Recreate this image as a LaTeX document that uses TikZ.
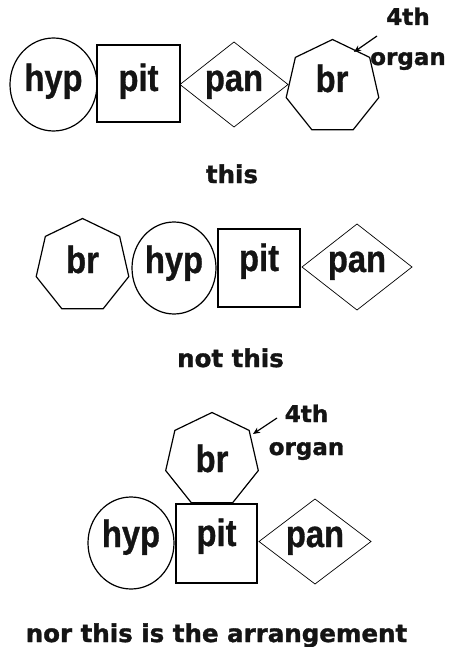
\documentclass[tikz,border=0pt]{standalone}
\usepackage{fontspec}
\usetikzlibrary{shapes.geometric,arrows.meta}
\newfontfamily\labfont{Liberation Sans}[FakeStretch=0.86, BoldFeatures={FakeBold=0.8}]
\newfontfamily\capfont{DejaVu Sans}[BoldFeatures={FakeBold=1.3}]
\tikzset{
  organ/.style={draw=black, line width=1.2pt, inner sep=0pt, outer sep=0pt},
  circ/.style={organ, ellipse},
  sq/.style={organ, rectangle},
  dia/.style={organ, diamond, line width=0.7pt},
  hept/.style={organ, regular polygon, regular polygon sides=7, minimum size=95pt},
  lab/.style={anchor=base, inner sep=0pt, text=black!92, font=\labfont\bfseries\fontsize{38}{40}\selectfont},
  captext/.style={anchor=base, inner sep=0pt, text=black!92, font=\capfont\bfseries\fontsize{24.5}{28}\selectfont},
  note/.style={anchor=base, inner sep=0pt, text=black!92, font=\capfont\bfseries\fontsize{23}{26}\selectfont},
  pointer/.style={line width=1.2pt, -{Stealth[length=7pt,width=6pt]}}
}
\begin{document}
\begin{tikzpicture}[x=1pt,y=-1pt]
\useasboundingbox[fill=white] (0,0) rectangle (456,647);
% ---------- row 1 ----------
\node[circ, minimum width=87pt, minimum height=93pt] (hyp1) at (53.5,84.5) {};
\node[sq, minimum width=83pt, minimum height=77pt] (pit1) at (138.5,83.5) {};
\node[dia, minimum width=108pt, minimum height=85pt] (pan1) at (234,84.5) {};
\node[hept] (br1) at (332.5,87) {};
\node[lab] (thyp1) at (53.5,91) {hyp};
\node[lab] (tpit1) at (138.5,91) {pit};
\node[lab] (tpan1) at (234,91) {pan};
\node[lab] (tbr1) at (332,92) {br};
\node[note] (four1) at (408,25) {4th};
\node[note] (org1) at (408,65) {organ};
\coordinate (a1s) at (377,36);
\coordinate (a1e) at (354,52);
\draw[pointer] (a1s) -- (a1e);
\node[captext] (c1) at (232,183) {this};
% ---------- row 2 ----------
\node[hept] (br2) at (82.5,266) {};
\node[circ, minimum width=84pt, minimum height=92pt] (hyp2) at (174,268) {};
\node[sq, minimum width=82pt, minimum height=78pt] (pit2) at (259,268) {};
\node[dia, minimum width=110pt, minimum height=86pt] (pan2) at (357,267) {};
\node[lab] (tbr2) at (82.5,273) {br};
\node[lab] (thyp2) at (174,273) {hyp};
\node[lab] (tpit2) at (259,271) {pit};
\node[lab] (tpan2) at (357,272) {pan};
\node[captext] (c2) at (230.5,367) {not this};
% ---------- row 3 ----------
\node[hept] (br3) at (212,460) {};
\node[circ, minimum width=86pt, minimum height=92pt] (hyp3) at (131,543) {};
\node[sq, minimum width=81pt, minimum height=79pt] (pit3) at (216.5,543.5) {};
\node[dia, minimum width=112pt, minimum height=85pt] (pan3) at (315,541.5) {};
\node[lab] (tbr3) at (212,472) {br};
\node[lab] (thyp3) at (131,547) {hyp};
\node[lab] (tpit3) at (216.5,546) {pit};
\node[lab] (tpan3) at (315,547) {pan};
\node[note] (four3) at (306.5,422) {4th};
\node[note] (org3) at (306.5,455) {organ};
\coordinate (a3s) at (277,418);
\coordinate (a3e) at (253,434);
\draw[pointer] (a3s) -- (a3e);
\node[captext] (c3) at (216.5,642) {nor this is the arrangement};
\end{tikzpicture}
\end{document}
